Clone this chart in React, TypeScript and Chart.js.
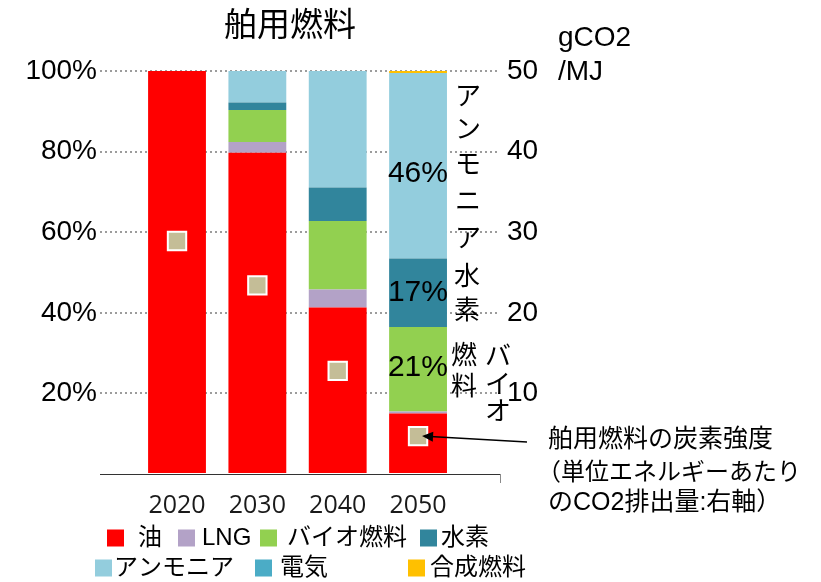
import React, { useEffect, useRef } from 'react';
import { Chart, registerables } from 'chart.js';

Chart.register(...registerables);

// Marine fuel mix by year (share of energy, %)
const years = ['2020', '2030', '2040', '2050'];
const oil = [100, 79.7, 41.3, 15];
const lng = [0, 2.7, 4.5, 0.5];
const bio = [0, 7.9, 17, 21];
const hydrogen = [0, 1.9, 8.3, 17];
const ammonia = [0, 7.8, 28.9, 46];
const electricity = [0, 0, 0, 0];
const synthetic = [0, 0, 0, 0.5];

// Carbon intensity of marine fuel (gCO2/MJ, right axis)
const carbonIntensity = [28.9, 23.4, 12.8, 4.7];

const seriesNames = ['油', 'LNG', 'バイオ燃料', '水素', 'アンモニア', '電気', '合成燃料'];
const seriesColors = ['#FF0000', '#B3A2C7', '#92D050', '#31859C', '#93CDDD', '#4BACC6', '#FFC000'];
const seriesValues = [oil, lng, bio, hydrogen, ammonia, electricity, synthetic];

const FONT = '"Liberation Sans", "Noto Sans CJK JP", sans-serif';
const font = (px: number) => `${px}px ${FONT}`;

const decorations = {
  id: 'decorations',
  afterDraw(chart: any) {
    const ctx: CanvasRenderingContext2D = chart.ctx;
    const { chartArea } = chart;
    ctx.save();
    ctx.fillStyle = '#000';

    // Title
    ctx.font = font(33);
    ctx.textAlign = 'center';
    ctx.textBaseline = 'middle';
    ctx.fillText('舶用燃料', 290, 27);

    // Right axis unit
    ctx.font = font(28);
    ctx.textAlign = 'left';
    ctx.fillText('gCO2', 558, 38);
    ctx.fillText('/MJ', 558, 72);

    // Small tick at the right end of the category axis
    ctx.strokeStyle = '#8a8a8a';
    ctx.lineWidth = 1;
    ctx.beginPath();
    ctx.moveTo(chartArea.right + 0.5, chartArea.bottom);
    ctx.lineTo(chartArea.right + 0.5, chartArea.bottom + 9);
    ctx.stroke();

    // Share labels inside the 2050 bar (series index, vertical nudge)
    const last = years.length - 1;
    const labelled: [number, number][] = [[2, -1], [3, 0], [4, 8]];
    ctx.font = font(30);
    ctx.textAlign = 'right';
    ctx.textBaseline = 'middle';
    ctx.fillStyle = '#000';
    labelled.forEach(([di, dy]) => {
      const bar = chart.getDatasetMeta(di).data[last];
      const v = seriesValues[di][last];
      const cy = (bar.y + bar.base) / 2 + dy;
      ctx.fillText(`${Math.round(v)}%`, bar.x + bar.width / 2 + 1, cy);
    });

    // Vertical series names beside the 2050 bar
    ctx.font = font(26);
    ctx.textAlign = 'center';
    const vertical = [
      { text: 'アンモニア', x: 468, ys: [98, 131, 166, 203, 240] },
      { text: '水素', x: 467, ys: [278, 312] },
      { text: '燃料', x: 464, ys: [357, 388] },
      { text: 'バイオ', x: 498, ys: [358, 386, 413] },
    ];
    vertical.forEach(({ text, x, ys }) => {
      Array.from(text).forEach((ch, i) => ctx.fillText(ch, x, ys[i]));
    });

    // Note on the carbon-intensity markers, with an arrow to the 2050 marker
    ctx.textAlign = 'left';
    ctx.font = font(25);
    ctx.fillText('舶用燃料の炭素強度', 548, 440);
    ctx.font = font(24);
    ctx.fillText('（単位エネルギーあたり', 537, 473);
    ctx.font = font(25);
    ctx.fillText('のCO2排出量:右軸）', 548, 503);

    const pt = chart.getDatasetMeta(seriesNames.length).data[last];
    const tipX = pt.x + 4;
    const tipY = pt.y;
    const tailX = 527;
    const tailY = 442;
    const ang = Math.atan2(tipY - tailY, tipX - tailX);
    ctx.strokeStyle = '#000';
    ctx.lineWidth = 1.5;
    ctx.beginPath();
    ctx.moveTo(tailX, tailY);
    ctx.lineTo(tipX + 8 * Math.cos(ang + Math.PI), tipY + 8 * Math.sin(ang + Math.PI));
    ctx.stroke();
    ctx.fillStyle = '#000';
    ctx.beginPath();
    ctx.moveTo(tipX, tipY);
    ctx.lineTo(tipX - 11 * Math.cos(ang) + 5 * Math.sin(ang), tipY - 11 * Math.sin(ang) - 5 * Math.cos(ang));
    ctx.lineTo(tipX - 11 * Math.cos(ang) - 5 * Math.sin(ang), tipY - 11 * Math.sin(ang) + 5 * Math.cos(ang));
    ctx.closePath();
    ctx.fill();

    // Legend, two rows
    const legendSlots = [
      { sx: 107, tx: 138, y: 538 },
      { sx: 178, tx: 202, y: 538 },
      { sx: 260, tx: 287, y: 538 },
      { sx: 420, tx: 441, y: 538 },
      { sx: 95, tx: 114, y: 568 },
      { sx: 255, tx: 280, y: 568 },
      { sx: 408, tx: 430, y: 568 },
    ];
    ctx.font = font(24);
    ctx.textBaseline = 'middle';
    ctx.textAlign = 'left';
    seriesNames.forEach((name, i) => {
      const s = legendSlots[i];
      ctx.fillStyle = seriesColors[i];
      ctx.fillRect(s.sx, s.y - 8.5, 17, 17);
      ctx.fillStyle = '#000';
      ctx.fillText(name, s.tx, s.y);
    });

    ctx.restore();
  },
};

export default function App() {
  const canvasRef = useRef<HTMLCanvasElement | null>(null);

  useEffect(() => {
    const canvas = canvasRef.current;
    if (!canvas) return;

    Chart.defaults.font.family = FONT;
    Chart.defaults.color = '#000';

    const barSets = seriesNames.map((name, i) => ({
      type: 'bar' as const,
      label: name,
      data: seriesValues[i].map((v, j) => ({ x: j, y: v })),
      backgroundColor: seriesColors[i],
      borderWidth: 0,
      yAxisID: 'y',
      stack: 'fuel',
      order: 1,
      categoryPercentage: 1,
      barPercentage: 0.72,
    }));

    const markerSet = {
      type: 'line' as const,
      label: '舶用燃料の炭素強度',
      data: carbonIntensity.map((v, j) => ({ x: j, y: v })),
      yAxisID: 'y1',
      showLine: false,
      pointStyle: 'rect',
      pointRadius: 13,
      pointHoverRadius: 13,
      pointBackgroundColor: '#C4BD97',
      pointBorderColor: '#FFFFFF',
      pointBorderWidth: 2,
      order: 0,
    };

    const chart = new Chart(canvas, {
      type: 'bar',
      data: { datasets: [...barSets, markerSet] as any },
      options: {
        responsive: false,
        animation: false,
        devicePixelRatio: 1,
        layout: { padding: { top: 71, left: 0, right: 0, bottom: 0 } },
        plugins: {
          legend: { display: false },
          title: { display: false },
          tooltip: { enabled: false },
        },
        scales: {
          x: {
            type: 'linear',
            offset: false,
            min: -0.9585,
            max: 4.02,
            afterBuildTicks: (s: any) => {
              s.ticks = years.map((_, i) => ({ value: i }));
            },
            afterFit: (s: any) => {
              s.height = 108;
            },
            grid: { display: false, drawTicks: false },
            border: { display: true, color: '#333', width: 1 },
            ticks: {
              padding: 17,
              autoSkip: false,
              maxRotation: 0,
              color: '#1a1a1a',
              font: { size: 25, family: '"Open Sans", "Liberation Sans", sans-serif' },
              callback: (v: any) => years[v] ?? '',
            },
          },
          y: {
            position: 'left',
            stacked: true,
            min: 0,
            max: 100,
            afterFit: (s: any) => {
              s.width = 100;
            },
            grid: {
              drawTicks: false,
              lineWidth: 2,
              color: (c: any) => (c.tick && c.tick.value === 0 ? 'rgba(0,0,0,0)' : '#9c9c9c'),
            },
            border: { display: false, dash: [2, 3] },
            ticks: {
              stepSize: 20,
              padding: 3,
              font: { size: 28 },
              color: '#000',
              callback: (v: any) => (v === 0 ? '' : `${v}%`),
            },
          },
          y1: {
            position: 'right',
            min: 0,
            max: 50,
            afterFit: (s: any) => {
              s.width = 321;
            },
            grid: { display: false, drawTicks: false },
            border: { display: false },
            ticks: {
              stepSize: 10,
              padding: 7,
              font: { size: 28 },
              color: '#000',
              callback: (v: any) => (v === 0 ? '' : `${v}`),
            },
          },
        },
      } as any,
      plugins: [decorations],
    });

    return () => chart.destroy();
  }, []);

  return (
    <div style={{ position: 'fixed', left: 0, top: 0, width: 821, height: 582, background: '#fff' }}>
      <canvas ref={canvasRef} width={821} height={582} style={{ display: 'block' }} />
    </div>
  );
}
